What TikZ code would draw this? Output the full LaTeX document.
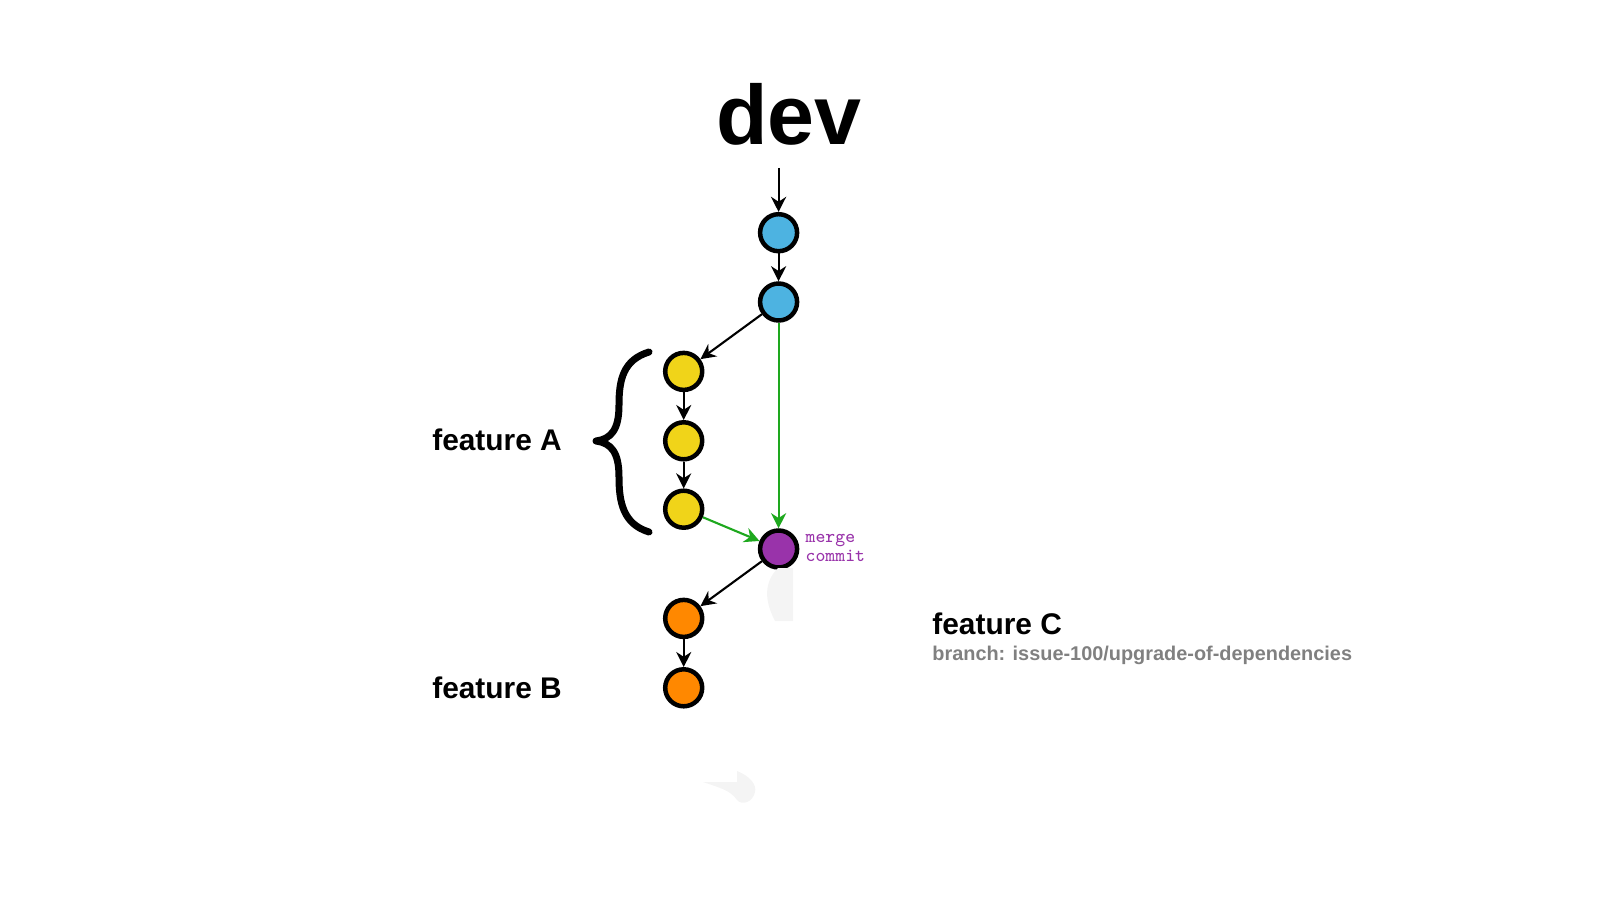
\documentclass[tikz,border=0pt]{standalone}
\usepackage{fontspec}
\setmainfont{Liberation Sans}
\usepackage{xcolor}
\usetikzlibrary{arrows.meta,positioning}

\definecolor{devblue}{HTML}{4DB3E1}
\definecolor{featyellow}{HTML}{F0D419}
\definecolor{featorange}{HTML}{FF8800}
\definecolor{mergepurple}{HTML}{9933AA}
\definecolor{mergegreen}{HTML}{1EA81E}
\definecolor{ghost}{HTML}{F4F4F4}

\begin{document}
\begin{tikzpicture}[x=0.1mm, y=-0.1mm,
  commit/.style={circle, draw=black, line width=0.45mm, minimum size=3.7mm, inner sep=0pt},
  devc/.style={commit, fill=devblue},
  featc/.style={commit, fill=featyellow},
  bugc/.style={commit, fill=featorange},
  mergec/.style={commit, fill=mergepurple},
  arr/.style={-{Stealth[length=4.3pt, width=4.3pt]}, line width=0.6pt},
  garr/.style={arr, draw=mergegreen},
  branchlab/.style={font=\bfseries\fontsize{8.5}{10}\selectfont, anchor=west, inner sep=0pt},
]
\useasboundingbox (0,0) rectangle (1600,900);

% --- Branch title ---
\node[font=\bfseries\fontsize{24}{28}\selectfont, inner sep=0pt] (dev) at (789,114) {dev};
\coordinate (devin) at (778.6,168);

% --- Commits ---
\node[devc]   (c1) at (778.6,232.7) {};
\node[devc]   (c2) at (778.6,302)   {};
\node[featc]  (a1) at (683.7,371.4) {};
\node[featc]  (a2) at (683.7,440.8) {};
\node[featc]  (a3) at (683.7,509.2) {};
\node[mergec] (mc) at (778.6,549)   {};
\node[bugc]   (b1) at (683.7,618.4) {};
\node[bugc]   (b2) at (683.7,687.8) {};

% --- History (arrows) ---
\draw[arr] (devin) -- (c1);
\draw[arr] (c1) -- (c2);
\draw[arr] (c2) -- (a1);
\draw[arr] (a1) -- (a2);
\draw[arr] (a2) -- (a3);
\draw[garr] (c2) -- (mc);
\draw[garr] (a3) -- (mc);
\draw[arr] (mc) -- (b1);
\draw[arr] (b1) -- (b2);

% --- Labels ---
\node[font=\ttfamily\fontsize{5.3}{5.4}\selectfont, text=mergepurple, align=left,
  anchor=west, inner sep=0pt] (mlab) at (805,547.5) {merge\\commit};
\node[branchlab] (fa) at (431.6,440) {feature A};
\node[branchlab] (fb) at (431.6,687.8) {feature B};
\node[branchlab] (fc) at (931.7,623.5) {feature C};
\node[font=\bfseries\fontsize{5.66}{7}\selectfont, text=gray, anchor=west,
  inner sep=0pt] (fcbr) at (931.7,655) {branch: issue-100/upgrade-of-dependencies};

% --- Brace round feature A ---
\draw[line width=0.7mm, line join=round, line cap=round]
  (649,352) .. controls (623,360) and (619,380) .. (619,405)
  .. controls (619,430) and (611,439) .. (596,441)
  .. controls (611,443) and (619,452) .. (619,477)
  .. controls (619,502) and (623,524) .. (649,532);

% --- Faint leftovers ---
\fill[ghost] (793,568) -- (793,621) -- (775,621) .. controls (764,600) and (764,582) .. (778,568) -- cycle;
\fill[ghost] (703,782) -- (737,782) -- (737,771) .. controls (750,776) and (757,785) .. (755,792)
  .. controls (753,802) and (742,806) .. (737,800) .. controls (730,790) and (720,788) .. (703,782) -- cycle;
\end{tikzpicture}
\end{document}
